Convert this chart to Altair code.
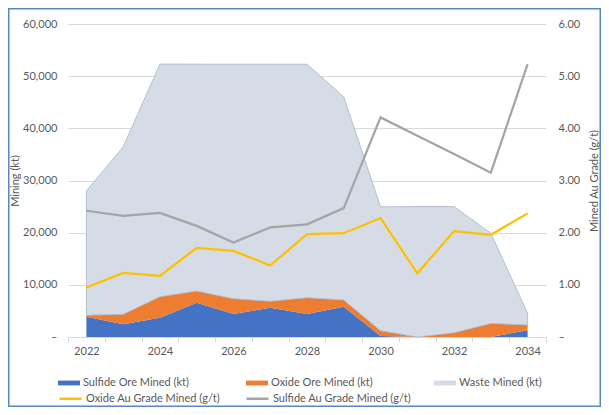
import altair as alt
import pandas as pd

years = list(range(2022, 2035))
sulfide_ore = [3900, 2430, 3700, 6570, 4400, 5610, 4400, 5800, 200, 0, 0, 0, 1300]
oxide_ore = [260, 1920, 4020, 2240, 2940, 1230, 3130, 1290, 1010, 0, 800, 2600, 1000]
waste = [23850, 32100, 44600, 43500, 44950, 45450, 44750, 38950, 23750, 25000, 24200, 17300, 2250]
oxide_grade = [0.95, 1.23, 1.17, 1.71, 1.65, 1.37, 1.97, 1.99, 2.28, 1.22, 2.03, 1.96, 2.37]
sulfide_grade = [2.42, 2.32, 2.38, 2.13, 1.81, 2.10, 2.16, 2.47, 4.21, 3.86, 3.51, 3.15, 5.23]

area_names = ["Sulfide Ore Mined (kt)", "Oxide Ore Mined (kt)", "Waste Mined (kt)"]
area_colors = ["#4472C4", "#ED7D31", "#D5DCE6"]
line_names = ["Oxide Au Grade Mined (g/t)", "Sulfide Au Grade Mined (g/t)"]
line_colors = ["#FFC000", "#A5A5A5"]

rows = []
for i, (name, vals) in enumerate(zip(area_names, [sulfide_ore, oxide_ore, waste])):
    for y, v in zip(years, vals):
        rows.append({"year": y, "series": name, "value": v, "ord": i})
area_df = pd.DataFrame(rows)

rows = []
for name, vals in zip(line_names, [oxide_grade, sulfide_grade]):
    for y, v in zip(years, vals):
        rows.append({"year": y, "series": name, "grade": v})
line_df = pd.DataFrame(rows)

FONT = "Lato"
TXT = "#595959"
GRID = "#D9D9D9"

xscale = alt.Scale(domain=[2021.5, 2034.5], nice=False, zero=False)

x_tick_axis = alt.Axis(
    values=[2021.5 + i for i in range(14)], labels=False, ticks=True, tickSize=5,
    tickColor=GRID, domain=True, domainColor=GRID, grid=False, title=None, orient="bottom",
)
x_label_axis = alt.Axis(
    values=[2022, 2024, 2026, 2028, 2030, 2032, 2034], format="d", ticks=False, tickSize=0,
    domain=False, grid=False, labelPadding=8, title=None, orient="bottom",
)

frame = alt.Chart(pd.DataFrame({"a": [0]})).mark_rect(
    filled=False, stroke="#5B87C0", strokeWidth=1.5
).encode(
    x=alt.value(-59.25), x2=alt.value(532.25), y=alt.value(-15.25), y2=alt.value(382.25)
)

areas = alt.Chart(area_df).mark_area(interpolate="linear", strokeWidth=0.8).encode(
    x=alt.X("year:Q", scale=xscale, axis=x_tick_axis),
    y=alt.Y(
        "value:Q", stack="zero",
        scale=alt.Scale(domain=[0, 60000], nice=False),
        axis=alt.Axis(
            values=[0, 10000, 20000, 30000, 40000, 50000, 60000],
            labelExpr="datum.value == 0 ? '–' : format(datum.value, ',')",
            title="Mining (kt)", domain=False, ticks=False, grid=True, gridColor=GRID,
            labelPadding=11, titlePadding=2, orient="left",
        ),
    ),
    fill=alt.Fill(
        "series:N", title=None,
        scale=alt.Scale(domain=area_names, range=area_colors),
        legend=alt.Legend(
            orient="none", legendX=-10, legendY=348, direction="horizontal", columns=3,
            symbolType="M-1,-0.22H1V0.22H-1Z", symbolSize=484, symbolStrokeWidth=0,
            labelOffset=3, columnPadding=57, gridAlign="all", padding=0,
        ),
    ),
    stroke=alt.condition("datum.series == 'Waste Mined (kt)'", alt.value("#A9B5C7"), alt.value("transparent")),
    order=alt.Order("ord:Q", sort="ascending"),
)

lines = alt.Chart(line_df).mark_line(strokeWidth=2.25).encode(
    x=alt.X("year:Q", scale=xscale, axis=x_label_axis),
    y=alt.Y(
        "grade:Q",
        scale=alt.Scale(domain=[0, 6], nice=False),
        axis=alt.Axis(
            values=[0, 1, 2, 3, 4, 5, 6],
            labelExpr="datum.value == 0 ? '–' : format(datum.value, '.2f')",
            title="Mined Au Grade (g/t)", titleAngle=270, titleBaseline="top",
            domain=False, ticks=False, grid=False, labelPadding=12, titlePadding=9,
            orient="right",
        ),
    ),
    stroke=alt.Stroke(
        "series:N", title=None,
        scale=alt.Scale(domain=line_names, range=line_colors),
        legend=alt.Legend(
            orient="none", legendX=-10, legendY=362, direction="horizontal", columns=2,
            symbolType="stroke", symbolSize=484, symbolStrokeWidth=2.5,
            labelOffset=3, columnPadding=21, padding=0,
        ),
    ),
)

chart = alt.layer(frame, areas, lines).resolve_scale(
    y="independent", fill="independent", stroke="independent"
).resolve_axis(x="independent").properties(
    width=478, height=313,
    padding={"left": 60, "top": 16, "right": 55, "bottom": 70},
    autosize=alt.AutoSizeParams(type="none"),
    background="white",
).configure_view(stroke=None).configure_axis(
    labelFont=FONT, labelFontSize=11, labelColor=TXT,
    titleFont=FONT, titleFontSize=11, titleColor=TXT, titleFontWeight="normal",
).configure_legend(
    labelFont=FONT, labelFontSize=11, labelColor=TXT,
)

chart.save("out.html", embed_options={"renderer": "svg", "actions": False})
